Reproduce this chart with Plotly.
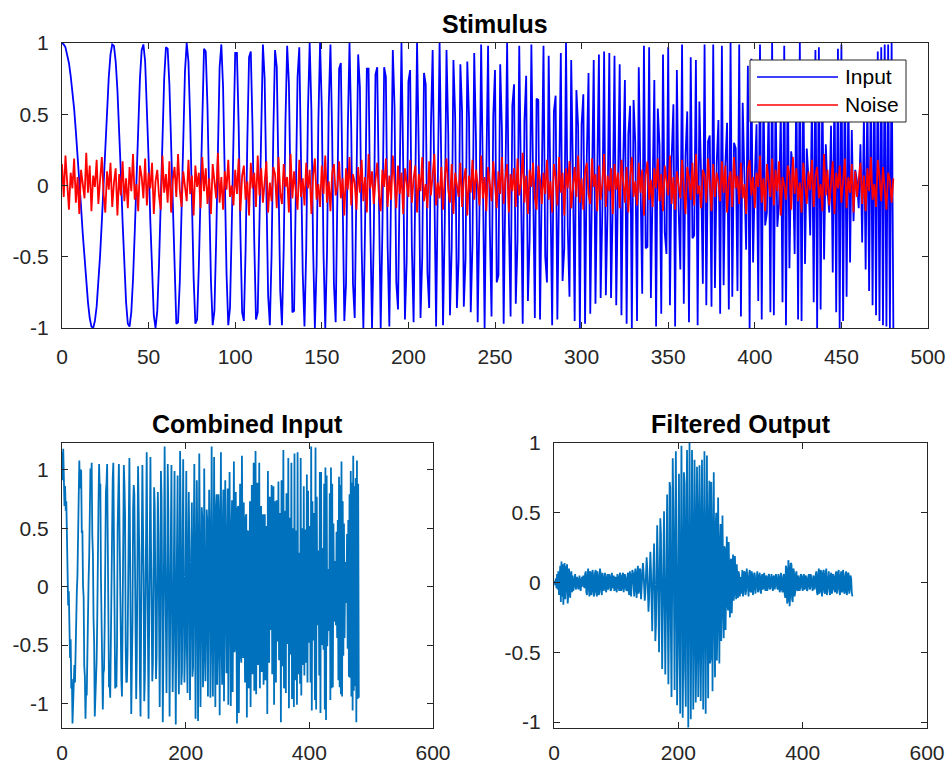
import plotly.graph_objects as go

# ---------------- data (read / estimated from the reference) ----------------
input_signal = [
    1.00, 0.99, 0.97, 0.92, 0.86, 0.77, 0.67, 0.54, 0.38, 0.22, 0.04, -0.15, -0.34, -0.52, -0.68, -0.82, -0.93, -0.99, -1.00, -0.95,
    -0.85, -0.69, -0.49, -0.25, 0.02, 0.29, 0.55, 0.76, 0.92, 0.99, 0.98, 0.87, 0.67, 0.40, 0.08, -0.26, -0.57, -0.82, -0.97, -0.99,
    -0.89, -0.66, -0.33, 0.05, 0.44, 0.75, 0.95, 0.99, 0.87, 0.58, 0.19, -0.25, -0.64, -0.91, -1.00, -0.88, -0.56, -0.12, 0.35, 0.75,
    0.97, 0.96, 0.71, 0.27, -0.25, -0.70, -0.97, -0.96, -0.68, -0.19, 0.36, 0.80, 1.00, 0.87, 0.46, -0.11, -0.65, -0.97, -0.94, -0.57,
    0.01, 0.60, 0.96, 0.94, 0.55, -0.07, -0.67, -0.98, -0.88, -0.39, 0.28, 0.83, 0.99, 0.69, 0.05, -0.62, -0.98, -0.86, -0.29, 0.43,
    0.93, 0.93, 0.42, -0.33, -0.89, -0.95, -0.46, 0.31, 0.90, 0.94, 0.41, -0.39, -0.94, -0.89, -0.25, 0.55, 0.99, 0.75, -0.01, -0.77,
    -0.98, -0.49, 0.36, 0.95, 0.83, 0.08, -0.74, -0.98, -0.45, 0.44, 0.98, 0.72, -0.14, -0.89, -0.88, -0.12, 0.76, 0.97, 0.31, -0.62,
    -0.99, -0.45, 0.52, 1.00, 0.53, -0.45, -1.00, -0.56, 0.44, 1.00, 0.54, -0.48, -1.00, -0.47, 0.56, 0.99, 0.34, -0.69, -0.96, -0.16,
    0.82, 0.86, -0.09, -0.95, -0.69, 0.39, 1.00, 0.40, -0.69, -0.93, -0.01, 0.92, 0.69, -0.43, -1.00, -0.27, 0.82, 0.82, -0.28, -1.00,
    -0.36, 0.78, 0.83, -0.28, -1.00, -0.30, 0.83, 0.76, -0.42, -0.99, -0.09, 0.95, 0.55, -0.68, -0.87, 0.28, 1.00, 0.15, -0.94, -0.53,
    0.73, 0.81, -0.43, -0.96, 0.10, 1.00, 0.22, -0.93, -0.50, 0.79, 0.71, -0.61, -0.86, 0.41, 0.95, -0.21, -0.99, 0.03, 1.00, 0.13,
    -0.98, -0.26, 0.95, 0.37, -0.91, -0.44, 0.88, 0.49, -0.86, -0.52, 0.85, 0.52, -0.85, -0.51, 0.87, 0.48, -0.89, -0.41, 0.93, 0.33,
    -0.96, -0.21, 0.99, 0.07, -1.00, 0.10, 0.98, -0.29, -0.92, 0.49, 0.81, -0.68, -0.63, 0.85, 0.39, -0.97, -0.10, 1.00, -0.23, -0.92,
    0.56, 0.71, -0.83, -0.39, 0.98, -0.02, -0.97, 0.45, 0.77, -0.81, -0.38, 0.99, -0.12, -0.93, 0.61, 0.60, -0.94, -0.07, 0.98, -0.50,
    -0.68, 0.91, 0.11, -0.98, 0.52, 0.63, -0.94, 0.01, 0.93, -0.67, -0.44, 1.00, -0.29, -0.78, 0.88, 0.09, -0.95, 0.67, 0.41, -1.00,
    0.43, 0.64, -0.97, 0.20, 0.79, -0.90, 0.03, 0.88, -0.83, -0.09, 0.92, -0.79, -0.16, 0.94, -0.77, -0.17, 0.93, -0.79, -0.12, 0.91,
    -0.84, -0.01, 0.85, -0.91, 0.15, 0.74, -0.97, 0.36, 0.56, -1.00, 0.60, 0.30, -0.95, 0.83, -0.05, -0.76, 0.98, -0.44, -0.43, 0.97,
    -0.79, 0.04, 0.74, -0.99, 0.54, 0.28, -0.90, 0.92, -0.33, -0.48, 0.97, -0.84, 0.19, 0.57, -0.99, 0.81, -0.15, -0.59, 0.99, -0.83,
    0.21, 0.52, -0.96, 0.90, -0.37, -0.35, 0.88, -0.98, 0.59, 0.07, -0.69, 0.99, -0.84, 0.31, 0.35, -0.85, 0.99, -0.72, 0.16, 0.46,
    -0.90, 0.98, -0.70, 0.15, 0.44, -0.87, 1.00, -0.78, 0.30, 0.26, -0.74, 0.99, -0.92, 0.58, -0.07, -0.45, 0.84, -1.00, 0.89, -0.54,
    0.06, 0.43, -0.81, 0.99, -0.94, 0.68, -0.28, -0.19, 0.60, -0.89, 1.00, -0.91, 0.66, -0.29, -0.13, 0.52, -0.82, 0.98, -0.98, 0.84,
    -0.58, 0.24, 0.13, -0.48, 0.76, -0.94, 1.00, -0.95, 0.79, -0.55, 0.26, 0.05, -0.35, 0.62, -0.82, 0.95, -1.00, 0.97, -0.87, 0.72,
    -0.52, 0.29, -0.04, -0.19, 0.42, -0.61, 0.77, -0.89, 0.96, -1.00, 0.99, -0.95, 0.88, -0.78, 0.67, -0.54, 0.39, -0.25, 0.11, 0.03,
    -0.16, 0.29, -0.40, 0.50, -0.59, 0.67, -0.74, 0.79, -0.84, 0.88, -0.91, 0.94, -0.95, 0.97, -0.98, 0.99, -0.99, 0.99, -1.00, 1.00,
    -1.00,
]

noise = [
    0.15, -0.08, 0.21, 0.03, -0.17, 0.09, -0.02, 0.19, -0.12, 0.06, -0.20, 0.11, 0.00, -0.09, 0.23, -0.05, 0.14, -0.18, 0.07, -0.01,
    0.18, -0.13, 0.04, 0.20, -0.06, -0.19, 0.10, -0.03, 0.16, -0.15, 0.02, 0.12, -0.21, 0.08, -0.07, 0.17, -0.11, 0.05, -0.16, 0.13,
    -0.04, 0.22, -0.10, 0.01, -0.18, 0.14, 0.06, -0.09, 0.19, -0.14, 0.09, -0.02, 0.16, -0.20, 0.03, 0.11, -0.07, -0.17, 0.21, -0.05,
    0.08, -0.12, 0.17, -0.19, 0.04, 0.13, -0.08, 0.22, -0.03, -0.15, 0.10, 0.01, -0.11, 0.18, -0.06, 0.07, -0.21, 0.14, -0.01, 0.09,
    -0.16, 0.20, -0.04, 0.12, -0.13, 0.05, -0.20, 0.15, 0.02, -0.09, 0.23, -0.12, 0.06, -0.17, 0.10, -0.03, 0.18, -0.08, 0.00, -0.14,
    0.11, -0.06, 0.19, -0.18, 0.07, 0.14, -0.10, 0.03, -0.21, 0.16, -0.02, 0.09, -0.15, 0.21, -0.07, 0.12, -0.12, 0.04, 0.17, -0.19,
    0.02, -0.11, 0.13, 0.08, -0.16, 0.20, -0.05, -0.13, 0.15, -0.01, 0.06, -0.19, 0.22, -0.09, 0.10, -0.04, -0.17, 0.18, -0.08, 0.05,
    -0.14, 0.16, -0.02, 0.11, -0.20, 0.07, 0.19, -0.10, 0.01, -0.15, 0.14, -0.06, 0.21, -0.12, 0.03, -0.18, 0.09, 0.15, -0.07, -0.01,
    0.17, -0.09, 0.05, -0.21, 0.12, -0.03, 0.20, -0.14, 0.08, 0.02, -0.17, 0.13, -0.05, 0.18, -0.11, 0.06, -0.19, 0.22, -0.02, 0.10,
    -0.13, 0.04, 0.16, -0.07, -0.18, 0.11, -0.01, 0.19, -0.15, 0.07, -0.10, 0.21, 0.00, -0.16, 0.14, -0.06, 0.09, -0.20, 0.12, 0.03,
    -0.08, 0.18, -0.12, 0.05, 0.14, -0.19, 0.08, -0.04, 0.20, -0.11, 0.01, -0.16, 0.17, -0.07, 0.10, 0.22, -0.14, 0.02, -0.09, 0.13,
    -0.17, 0.06, 0.19, -0.03, -0.12, 0.15, -0.20, 0.09, 0.00, -0.08, 0.16, -0.15, 0.04, 0.12, -0.21, 0.07, -0.05, 0.18, -0.10, 0.11,
    0.01, -0.14, 0.21, -0.09, 0.06, -0.18, 0.13, 0.03, -0.11, 0.17, -0.02, -0.16, 0.10, -0.06, 0.20, -0.13, 0.05, 0.15, -0.19, 0.08,
    -0.04, 0.12, -0.15, 0.19, -0.07, 0.02, 0.23, -0.12, 0.07, -0.20, 0.11, -0.01, 0.16, -0.09, -0.17, 0.14, 0.04, -0.13, 0.09, -0.06,
    0.18, -0.10, 0.03, -0.19, 0.15, 0.06, -0.14, 0.20, -0.05, 0.09, -0.21, 0.12, -0.02, 0.17, -0.16, 0.01, 0.13, -0.08, 0.21, -0.12,
    0.05, -0.17, 0.10, 0.16, -0.06, -0.13, 0.19, -0.01, 0.08, -0.18, 0.14, -0.10, 0.02, 0.22, -0.15, 0.07, -0.04, 0.12, -0.20, 0.15,
    -0.03, 0.09, -0.16, 0.18, 0.00, -0.12, 0.13, -0.19, 0.06, 0.20, -0.08, 0.03, -0.14, 0.16, -0.05, 0.11, -0.21, 0.07, 0.17, -0.10,
    0.04, -0.15, 0.12, -0.02, 0.19, -0.11, 0.08, -0.18, 0.14, 0.01, -0.07, 0.21, -0.13, 0.06, -0.17, 0.10, 0.02, -0.09, 0.18, -0.04,
    -0.20, 0.13, 0.05, -0.10, 0.16, -0.14, 0.22, -0.06, 0.00, -0.16, 0.11, 0.07, -0.12, 0.19, -0.03, -0.18, 0.15, -0.08, 0.09, 0.02,
    -0.11, 0.17, -0.05, 0.14, -0.19, 0.04, 0.10, -0.15, 0.20, -0.02, 0.07, -0.13, 0.16, -0.09, 0.01, -0.20, 0.12, 0.18, -0.07, 0.06,
    -0.16, 0.09, -0.01, 0.21, -0.12, 0.05, -0.18, 0.15, 0.03, -0.08, 0.19, -0.14, 0.11, -0.04, 0.17, -0.21, 0.06, 0.00, -0.10, 0.14,
    0.08, -0.17, 0.20, -0.06, 0.12, -0.11, 0.02, -0.19, 0.16, 0.04, -0.13, 0.10, -0.03, 0.18, -0.15, 0.07, 0.13, -0.09, 0.01, -0.18,
    0.22, -0.07, 0.11, -0.14, 0.05, 0.17, -0.20, 0.09, -0.02, 0.14, -0.12, 0.03, 0.19, -0.16, 0.06, -0.05, 0.15, -0.19, 0.10, -0.08,
    0.02, 0.16, -0.13, 0.07, -0.18, 0.12, -0.04, 0.20, -0.10, 0.01, -0.15, 0.18, 0.06, -0.11, 0.13, -0.06, -0.17, 0.09, 0.04, -0.12,
    0.05,
]

filtered_output = [
    0.00, 0.01, -0.02, 0.03, -0.04, 0.06, -0.05, 0.08, -0.09, 0.10,
    0.12, -0.14, 0.15, -0.10, 0.13, -0.16, 0.09, 0.14, -0.12, -0.05, 0.11, 0.13, -0.15, -0.09, 0.10, 0.06, -0.11, 0.05, 0.08, -0.07,
    0.05, -0.06, -0.02, 0.04, 0.06, -0.05, -0.03, 0.04, 0.02, -0.05, 0.03, 0.05, -0.04, -0.06, 0.02, 0.04, -0.03, 0.05, -0.02, -0.04,
    0.06, 0.08, -0.07, -0.09, 0.05, 0.10, -0.04, -0.10, 0.08, 0.07, -0.09, -0.06, 0.09, 0.05, -0.10, -0.08, 0.07, 0.09, -0.06, -0.10,
    0.08, 0.04, -0.09, -0.07, 0.10, 0.06, -0.05, -0.09, 0.07, 0.03,
    -0.06, 0.05, 0.07, -0.04, -0.07, 0.03, 0.06, -0.05, -0.03, 0.06, 0.04, -0.06, -0.05, 0.07, 0.02, -0.04, 0.05, -0.06, 0.03, 0.04,
    -0.05, -0.07, 0.06, 0.04, -0.03, -0.06, 0.07, 0.05, -0.06, -0.04, 0.05, 0.07, -0.07, -0.03, 0.06, 0.03, -0.05, -0.06, 0.04, 0.07,
    -0.06, -0.09, 0.08, 0.05, -0.10, -0.04, 0.09, 0.07, -0.08, -0.10, 0.06, 0.10, -0.05, -0.11, 0.07, 0.12, -0.08, -0.06, 0.10, 0.09,
    -0.12, -0.05, 0.07, 0.14, 0.08, -0.05, -0.13, -0.07, 0.07, 0.18, 0.10, -0.09, -0.21, -0.11, 0.12, 0.22, 0.08, -0.23, -0.35, -0.06,
    0.25, 0.28, -0.04, -0.42, -0.31, 0.15, 0.41, 0.17, -0.36, -0.50, -0.01, 0.46, 0.35, -0.26, -0.62, -0.17, 0.48, 0.51, -0.18, -0.66,
    -0.24, 0.57, 0.63, -0.20, -0.73, -0.23, 0.72, 0.68, -0.34, -0.82, -0.08, 0.89, 0.52, -0.60, -0.77, 0.26, 0.94, 0.14, -0.88, -0.50,
    0.70, 0.78, -0.42, -0.94, 0.10, 0.98, 0.22, -0.97, -0.52, 0.79, 0.71, -0.63, -0.89, 0.41, 0.95, -0.21, -1.04, 0.03, 1.00, 0.13,
    -0.98, -0.26, 0.95, 0.37, -0.91, -0.44, 0.88, 0.49, -0.86, -0.52, 0.83, 0.51, -0.82, -0.49, 0.84, 0.46, -0.85, -0.39, 0.88, 0.31,
    -0.91, -0.20, 0.94, 0.07, -0.94, 0.09, 0.91, -0.26, -0.83, 0.44, 0.73, -0.58, -0.54, 0.72, 0.32, -0.78, -0.08, 0.79, -0.17, -0.68,
    0.41, 0.50, -0.56, -0.25, 0.61, -0.02, -0.58, 0.26, 0.42, -0.42, -0.19, 0.48, -0.06, -0.40, 0.26, 0.24, -0.34, -0.02, 0.33, -0.16,
    -0.20, 0.29, 0.03, -0.25, 0.15, 0.17, -0.22, 0.01, 0.20, -0.13, -0.08, 0.19, -0.05, -0.12, 0.13, 0.01, -0.11, 0.08, 0.05, -0.10,
    0.04,
    -0.08, 0.06, 0.09, -0.10, -0.05, 0.08, 0.07, -0.09, -0.06, 0.10, 0.04, -0.08, -0.10, 0.07, 0.09, -0.06, -0.07, 0.08, 0.05, -0.09,
    -0.04, 0.07, 0.06, -0.08, -0.03, 0.06, 0.08, -0.07, -0.05, 0.05, 0.07, -0.06, -0.08, 0.04, 0.06, -0.05, -0.04, 0.07, 0.03, -0.06,
    0.05, 0.04, -0.06, -0.03, 0.05, 0.06, -0.05, -0.04, 0.03, 0.06, -0.03, -0.06, 0.04, 0.05, -0.05, -0.02, 0.06, 0.03, -0.04, -0.05,
    0.06, 0.04, -0.07, -0.05, 0.07, 0.03, -0.06, -0.07, 0.05, 0.06,
    -0.08, -0.11, 0.12, 0.10, -0.15, -0.13, 0.16, 0.11, -0.17, -0.09, 0.14, 0.13, -0.12, -0.14, 0.10, 0.08, -0.10, -0.07, 0.06, 0.08,
    -0.05, -0.06, 0.05, 0.03, -0.06, -0.04, 0.06, 0.05, -0.03, -0.06, 0.04, 0.06, -0.05, -0.04, 0.05, 0.03, -0.06, -0.05, 0.04, 0.06,
    -0.03, -0.05, 0.06, 0.02, -0.04, -0.06, 0.05, 0.04, -0.05, -0.03,
    0.06, 0.08, -0.07, -0.09, 0.05, 0.10, -0.08, -0.06, 0.09, 0.07, -0.10, -0.05, 0.08, 0.09, -0.07, -0.08, 0.06, 0.10, -0.09, -0.04,
    0.07, 0.08, -0.06, -0.09, 0.05, 0.07, -0.08, -0.05, 0.06, 0.04,
    -0.05, -0.07, 0.06, 0.08, -0.08, -0.04, 0.07, 0.09, -0.06, -0.09, 0.05, 0.08, -0.07, -0.06, 0.09, 0.04, -0.08, -0.07, 0.06, 0.08,
    -0.09, -0.05, 0.07, 0.06, -0.08, -0.04, 0.05, 0.03, -0.07, -0.10,
]

top_xticks = [0, 50, 100, 150, 200, 250, 300, 350, 400, 450, 500]
bottom_xticks = [0, 200, 400, 600]
yticks = [-1, -0.5, 0, 0.5, 1]
ytick_labels = ["-1", "-0.5", "0", "0.5", "1"]

# combined input is the stimulus plus the noise (built from the two arrays)
combined_input = [a + b for a, b in zip(input_signal, noise)]

# ---------------- figure ----------------
W, H = 950, 765


def fx(p):
    return p / W


def fy(p):
    return 1 - p / H


FONT = "Liberation Sans, Arial, Helvetica, sans-serif"
AX = "#262626"
LW = 1.8

fig = go.Figure()
fig.add_trace(go.Scatter(x=list(range(len(input_signal))), y=input_signal, mode="lines",
                         name="Input", line=dict(color="#0000FF", width=LW),
                         xaxis="x", yaxis="y", showlegend=False))
fig.add_trace(go.Scatter(x=list(range(len(noise))), y=noise, mode="lines",
                         name="Noise", line=dict(color="#FF0000", width=LW),
                         xaxis="x", yaxis="y", showlegend=False))
fig.add_trace(go.Scatter(x=list(range(len(combined_input))), y=combined_input, mode="lines",
                         name="Combined Input", line=dict(color="#0072BD", width=LW),
                         xaxis="x2", yaxis="y2", showlegend=False))
fig.add_trace(go.Scatter(x=list(range(len(filtered_output))), y=filtered_output, mode="lines",
                         name="Filtered Output", line=dict(color="#0072BD", width=LW),
                         xaxis="x3", yaxis="y3", showlegend=False))

common = dict(showline=True, linecolor=AX, linewidth=1, mirror="ticks",
              ticks="inside", ticklen=6, tickwidth=1, tickcolor=AX,
              showgrid=False, zeroline=False, automargin=False,
              tickfont=dict(family=FONT, size=21, color=AX))

fig.update_layout(
    template="none",
    width=W, height=H,
    margin=dict(l=0, r=0, t=0, b=0, pad=0),
    paper_bgcolor="white", plot_bgcolor="white",
    showlegend=False,
    font=dict(family=FONT, color=AX),
    xaxis=dict(domain=[fx(62), fx(928)], anchor="y", range=[0, 500],
               tickvals=top_xticks, ticklabelstandoff=10, **common),
    yaxis=dict(domain=[fy(328), fy(43)], anchor="x", range=[-1, 1],
               tickvals=yticks, ticktext=ytick_labels, ticklabelstandoff=8, **common),
    xaxis2=dict(domain=[fx(62), fx(433)], anchor="y2", range=[0, 600],
                tickvals=bottom_xticks, ticklabelstandoff=6, **common),
    yaxis2=dict(domain=[fy(728), fy(443)], anchor="x2", range=[-1.209, 1.229],
                tickvals=yticks, ticktext=ytick_labels, ticklabelstandoff=8, **common),
    xaxis3=dict(domain=[fx(554), fx(927)], anchor="y3", range=[0, 600],
                tickvals=bottom_xticks, ticklabelstandoff=6, **common),
    yaxis3=dict(domain=[fy(728), fy(443)], anchor="x3", range=[-1.043, 1.0],
                tickvals=yticks, ticktext=ytick_labels, ticklabelstandoff=8, **common),
)

titles = [("Stimulus", (62 + 928) / 2, 24), ("Combined Input", (62 + 433) / 2, 424),
          ("Filtered Output", (554 + 927) / 2, 424)]
for text, cx, cy in titles:
    fig.add_annotation(text="<b>%s</b>" % text, x=fx(cx), y=fy(cy), xref="paper", yref="paper",
                       xanchor="center", yanchor="middle", showarrow=False,
                       font=dict(family=FONT, size=25, color="#000000"))

# legend box (drawn like MATLAB's legend: long line samples)
fig.add_shape(type="rect", xref="paper", yref="paper", x0=fx(750), x1=fx(906), y0=fy(122), y1=fy(60),
              fillcolor="white", line=dict(color=AX, width=1), layer="above")
legend_items = [("Input", "#0000FF", 77), ("Noise", "#FF0000", 105)]
for label, color, ly in legend_items:
    fig.add_shape(type="line", xref="paper", yref="paper", x0=fx(757), x1=fx(838), y0=fy(ly), y1=fy(ly),
                  line=dict(color=color, width=1.5), layer="above")
    fig.add_annotation(text=label, x=fx(843), y=fy(ly), xref="paper", yref="paper",
                       xanchor="left", yanchor="middle", showarrow=False,
                       font=dict(family=FONT, size=21, color="#000000"))

fig.write_html(
    "out.html",
    config={"displayModeBar": False},
    post_script="document.body.style.margin='0';document.body.style.overflow='hidden';",
)
